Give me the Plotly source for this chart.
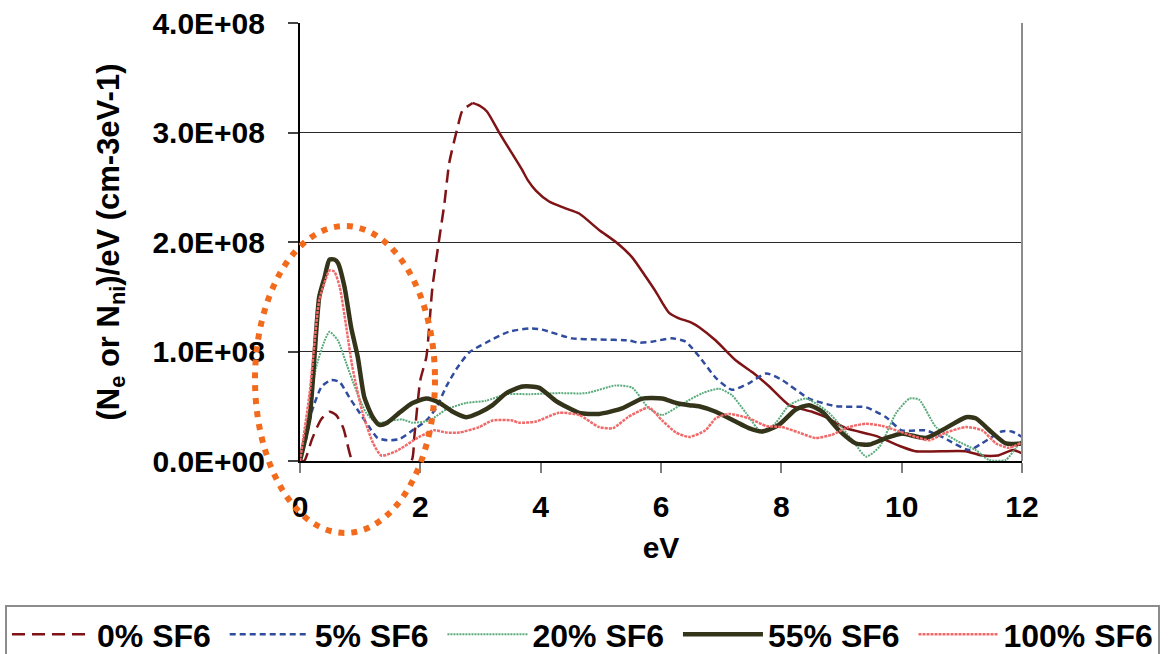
import numpy as np
import plotly.graph_objects as go

# ---------------- data (y values in units of 1e8 cm-3 eV-1) ----------------
x_0 = [0.0, 0.07, 0.2, 0.35, 0.49, 0.6, 0.72, 0.87, 1.0, 1.5, 1.85, 1.9, 2.0, 2.1, 2.2, 2.32,
       2.4, 2.48, 2.62, 2.7, 2.87, 3.0, 3.11, 3.31, 3.5, 3.69, 3.78, 3.92, 4.14, 4.4, 4.64,
       4.97, 5.25, 5.52, 5.75, 5.92, 6.05, 6.14, 6.27, 6.52, 6.64, 6.91, 7.24, 7.52, 7.8,
       8.13, 8.51, 8.74, 9.07, 9.57, 10.0, 10.23, 11.06, 11.33, 11.6, 11.85, 12.0]
y_0 = [0.0, 0.0, 0.2, 0.38, 0.45, 0.42, 0.3, 0.0, -0.05, -0.05, 0.0, 0.22, 0.74, 0.95, 1.58, 2.05,
       2.35, 2.72, 3.05, 3.2, 3.27, 3.24, 3.19, 3.0, 2.83, 2.66, 2.57, 2.47, 2.37, 2.31, 2.26,
       2.11, 2.0, 1.86, 1.68, 1.54, 1.42, 1.35, 1.31, 1.26, 1.22, 1.1, 0.92, 0.81, 0.68,
       0.51, 0.45, 0.40, 0.30, 0.23, 0.13, 0.09, 0.09, 0.05, 0.05, 0.1, 0.07]

x_5 = [0.0, 0.1, 0.19, 0.36, 0.52, 0.66, 0.82, 0.99, 1.15, 1.29, 1.45, 1.65, 1.87, 2.1, 2.27,
       2.43, 2.6, 2.81, 3.09, 3.47, 3.81, 4.02, 4.52, 4.97, 5.47, 5.63, 5.85, 6.18, 6.41,
       6.64, 6.91, 7.18, 7.46, 7.75, 8.01, 8.46, 8.91, 9.41, 9.74, 10.0, 10.4, 10.67, 11.12,
       11.33, 11.66, 11.83, 12.0]
y_5 = [0.0, 0.2, 0.44, 0.68, 0.74, 0.72, 0.58, 0.44, 0.31, 0.21, 0.19, 0.2, 0.28, 0.37, 0.49,
       0.68, 0.84, 0.99, 1.08, 1.18, 1.21, 1.2, 1.12, 1.11, 1.1, 1.08, 1.09, 1.12, 1.09,
       0.95, 0.76, 0.65, 0.71, 0.8, 0.74, 0.57, 0.5, 0.49, 0.4, 0.28, 0.28, 0.22, 0.1,
       0.16, 0.27, 0.27, 0.22]

x_20 = [0.0, 0.13, 0.27, 0.41, 0.49, 0.63, 0.77, 0.93, 1.1, 1.27, 1.54, 1.7, 1.87, 2.15, 2.43,
        2.76, 3.09, 3.43, 3.81, 4.3, 4.76, 5.25, 5.52, 5.8, 6.02, 6.35, 6.69, 6.97, 7.18,
        7.41, 7.68, 7.91, 8.13, 8.41, 8.79, 9.18, 9.41, 9.63, 9.91, 10.13, 10.29, 10.57,
        10.9, 11.23, 11.45, 11.73, 11.9, 12.0]
y_20 = [0.0, 0.4, 0.86, 1.1, 1.18, 1.1, 0.89, 0.65, 0.44, 0.35, 0.37, 0.38, 0.35, 0.37, 0.47,
        0.53, 0.55, 0.61, 0.61, 0.62, 0.62, 0.69, 0.67, 0.48, 0.42, 0.52, 0.62, 0.66, 0.6,
        0.44, 0.26, 0.35, 0.51, 0.57, 0.44, 0.19, 0.04, 0.13, 0.44, 0.57, 0.56, 0.31,
        0.19, 0.1, 0.01, 0.01, 0.12, 0.19]

x_55 = [0.0, 0.16, 0.32, 0.41, 0.49, 0.57, 0.63, 0.74, 0.85, 0.96, 1.07, 1.21, 1.32, 1.45, 1.65,
        1.87, 2.1, 2.32, 2.54, 2.76, 2.98, 3.2, 3.43, 3.7, 3.97, 4.25, 4.64, 4.97, 5.35,
        5.69, 6.02, 6.25, 6.47, 6.63, 6.91, 7.24, 7.46, 7.68, 7.96, 8.24, 8.46, 8.68, 8.96,
        9.24, 9.46, 9.74, 10.0, 10.4, 10.67, 11.07, 11.23, 11.5, 11.73, 12.0]
y_55 = [0.0, 0.4, 1.5, 1.68, 1.84, 1.84, 1.81, 1.59, 1.22, 0.95, 0.58, 0.40, 0.33, 0.35, 0.44,
        0.53, 0.57, 0.53, 0.45, 0.40, 0.44, 0.51, 0.62, 0.68, 0.67, 0.55, 0.44, 0.43, 0.48,
        0.57, 0.57, 0.53, 0.51, 0.50, 0.45, 0.36, 0.30, 0.27, 0.33, 0.47, 0.51, 0.45, 0.28,
        0.16, 0.15, 0.21, 0.25, 0.21, 0.28, 0.40, 0.39, 0.26, 0.16, 0.16]

x_100 = [0.0, 0.16, 0.32, 0.44, 0.49, 0.57, 0.66, 0.77, 0.87, 1.04, 1.21, 1.35, 1.6, 1.98, 2.23,
         2.43, 2.65, 2.98, 3.2, 3.53, 3.64, 3.92, 4.3, 4.64, 4.97, 5.2, 5.45, 5.69, 5.8,
         6.02, 6.25, 6.47, 6.74, 6.91, 7.13, 7.46, 7.75, 8.01, 8.29, 8.57, 8.84, 9.12, 9.41,
         9.68, 9.96, 10.24, 10.46, 10.74, 11.07, 11.34, 11.57, 11.78, 12.0]
y_100 = [0.0, 0.62, 1.47, 1.68, 1.74, 1.73, 1.59, 1.22, 0.86, 0.44, 0.17, 0.05, 0.09, 0.22, 0.28,
         0.26, 0.26, 0.31, 0.37, 0.37, 0.35, 0.36, 0.44, 0.42, 0.31, 0.30, 0.40, 0.47, 0.49,
         0.37, 0.26, 0.22, 0.28, 0.39, 0.43, 0.39, 0.32, 0.31, 0.26, 0.21, 0.24, 0.31, 0.34,
         0.32, 0.27, 0.22, 0.19, 0.26, 0.31, 0.28, 0.16, 0.12, 0.17]

series_names = ["0% SF6", "5% SF6", "20% SF6", "55% SF6", "100% SF6"]
y_tickvals = [0, 1e8, 2e8, 3e8, 4e8]
y_ticktext = ["0.0E+00", "1.0E+08", "2.0E+08", "3.0E+08", "4.0E+08"]
x_tickvals = [0, 2, 4, 6, 8, 10, 12]
x_ticktext = ["0", "2", "4", "6", "8", "10", "12"]
UNIT = 1e8

FONT = "Liberation Sans, Arial, sans-serif"
PAD = "\u00a0"   # small spacer after legend labels (legend spacing)

fig = go.Figure()

# 0% SF6: dashed rising part, then densely sampled (solid-looking) tail
x0a = np.array(x_0)
y0a = np.array(y_0) * UNIT
split = x_0.index(2.87)
fig.add_trace(go.Scatter(x=x0a[:split + 1], y=y0a[:split + 1], mode="lines",
                         name=series_names[0] + PAD, legendgroup="g0",
                         line=dict(color="#7f1315", width=2.5, dash="13px,7px",
                                   shape="spline", smoothing=0.6)))
fig.add_trace(go.Scatter(x=x0a[split:], y=y0a[split:], mode="lines",
                         name=series_names[0], legendgroup="g0", showlegend=False,
                         line=dict(color="#7f1315", width=2.5,
                                   shape="spline", smoothing=0.6)))

fig.add_trace(go.Scatter(x=x_5, y=np.array(y_5) * UNIT, mode="lines", name=series_names[1] + PAD,
                         line=dict(color="#2f4c9e", width=2.5, dash="6px,4px",
                                   shape="spline", smoothing=0.6)))
fig.add_trace(go.Scatter(x=x_20, y=np.array(y_20) * UNIT, mode="lines", name=series_names[2] + PAD,
                         line=dict(color="#5aaa7c", width=2, dash="2px,1px",
                                   shape="spline", smoothing=0.6)))
fig.add_trace(go.Scatter(x=x_55, y=np.array(y_55) * UNIT, mode="lines", name=series_names[3] + PAD,
                         line=dict(color="#34341a", width=4.5,
                                   shape="spline", smoothing=0.6)))
fig.add_trace(go.Scatter(x=x_100, y=np.array(y_100) * UNIT, mode="lines", name=series_names[4],
                         line=dict(color="#f06a6a", width=2.5, dash="3px,1px",
                                   shape="spline", smoothing=0.6)))

# page geometry: plot area spans x 300..1022 px, y 23..461 px
L, T, B = 300, 23, 193
GW = 1172 - L              # grid width (right margin 0, x-axis domain limits the plot)
PLOT_W = 722
H = 654 - T - B
XDOM = PLOT_W / GW

def px_x(px):
    return (px - L) / GW

def px_y(py):
    return (654 - B - py) / H

shapes = [
    # right frame line
    dict(type="line", xref="paper", yref="paper", x0=XDOM, x1=XDOM, y0=0, y1=1,
         line=dict(color="#8c8c8c", width=2)),
    # orange dotted highlight ellipse around the low-energy peak
    dict(type="circle", xref="paper", yref="paper",
         x0=px_x(255), x1=px_x(435), y0=px_y(533), y1=px_y(226),
         line=dict(color="#f26b1d", width=6, dash="6px,7px"), layer="above"),
]

fig.update_layout(
    width=1172, height=654,
    margin=dict(l=L, r=0, t=T, b=B, autoexpand=False),
    paper_bgcolor="white", plot_bgcolor="white",
    font=dict(family=FONT, size=30, color="black", weight="bold"),
    showlegend=True,
    legend=dict(orientation="h", x=px_x(5), xanchor="left", y=px_y(605), yanchor="top",
                bgcolor="white", bordercolor="#8c8c8c", borderwidth=2,
                font=dict(family=FONT, size=32, color="black", weight="bold"),
                itemwidth=80, traceorder="normal"),
    shapes=shapes,
    xaxis=dict(domain=[0, XDOM], range=[0, 12], tickvals=x_tickvals, ticktext=x_ticktext,
               ticks="outside", ticklen=10, tickcolor="#808080", tickwidth=2,
               showline=True, linecolor="black", linewidth=2,
               showgrid=False, zeroline=False, ticklabelstandoff=8,
               tickfont=dict(size=30, family=FONT, weight="bold"),
               title=dict(text="eV", standoff=15,
                          font=dict(size=30, family=FONT, weight="bold"))),
    yaxis=dict(range=[0, 4e8], tickvals=y_tickvals, ticktext=y_ticktext,
               ticks="outside", ticklen=10, tickcolor="#444444", tickwidth=2,
               showline=True, linecolor="black", linewidth=2,
               showgrid=True, gridcolor="#2a2a2a", gridwidth=1, zeroline=False,
               ticklabelstandoff=17,
               tickfont=dict(size=30, family=FONT, weight="bold"),
               title=dict(text="(N<sub>e</sub> or N<sub>ni</sub>)/eV (cm-3eV-1)", standoff=24,
                          font=dict(size=31, family=FONT, weight="bold"))),
)

fig.write_html("out.html")
